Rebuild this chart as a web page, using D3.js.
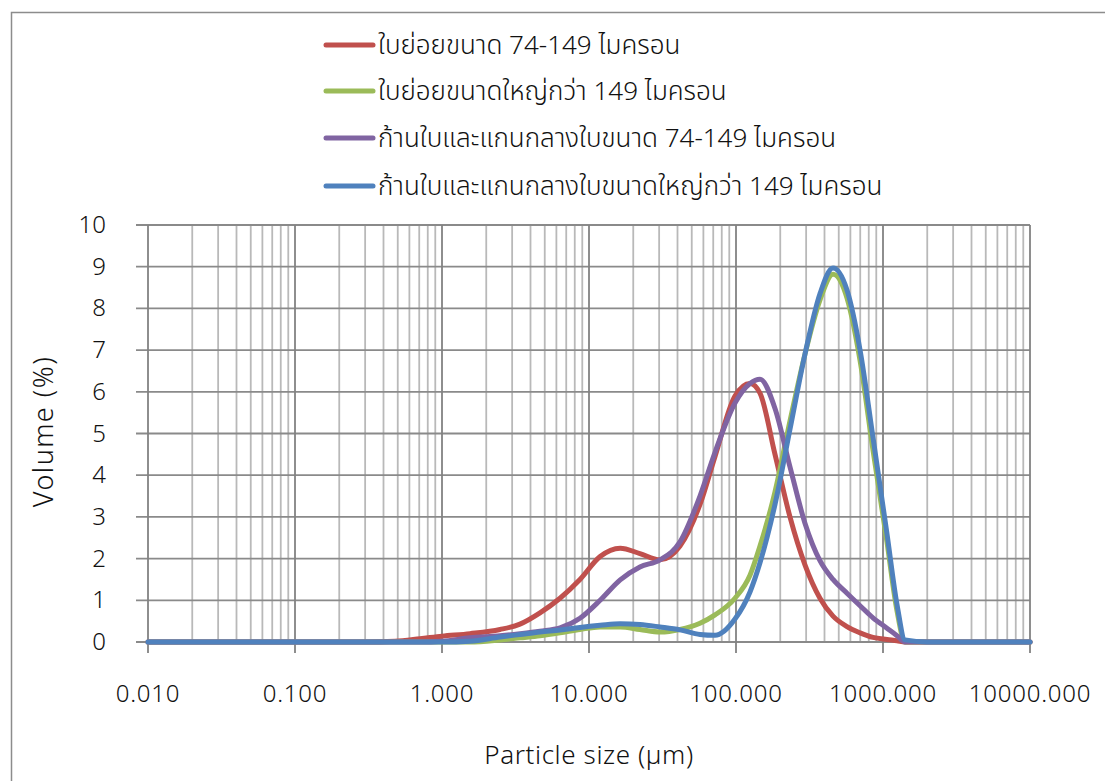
<!DOCTYPE html>
<html>
<head>
<meta charset="utf-8">
<script src="https://cdn.jsdelivr.net/npm/d3@7"></script>
<style>
  body { margin: 0; background: #fff; }
  text { font-family: "Noto Sans", "Open Sans", sans-serif; font-weight: 300; fill: #111; }
  .thai { font-family: "Noto Sans Thai", "Loma", "Garuda", "Norasi", "Noto Sans", sans-serif; font-weight: 300; }
</style>
</head>
<body>
<div id="chart"></div>
<script>
// particle size (µm) shared by every series
const sizes = [0.01, 0.1, 0.3, 0.479, 0.708, 1.0, 1.55, 2.48, 3.39, 4.64, 6.35, 8.68, 11.9, 16.3,
  22.2, 30.4, 41.6, 56.9, 72.0, 98.4, 124.5, 145.6, 184.2, 232.9, 294.5, 372.5, 457.1, 568.9,
  698.2, 855.1, 1064, 1245, 1412, 2000, 10000];

// volume (%)
const redVals = [0, 0, 0, 0.02, 0.08, 0.14, 0.2, 0.3, 0.43, 0.7, 1.05, 1.5, 2.05, 2.25,
  2.12, 1.97, 2.3, 3.3, 4.45, 5.9, 6.2, 5.97, 4.5, 3.0, 1.85, 1.05, 0.62, 0.37,
  0.22, 0.11, 0.06, 0.03, 0, 0, 0];
const greenVals = [0, 0, 0, 0, 0, 0, 0, 0.05, 0.1, 0.15, 0.22, 0.3, 0.36, 0.36,
  0.3, 0.24, 0.3, 0.45, 0.65, 1.05, 1.6, 2.3, 3.6, 5.3, 6.9, 8.2, 8.82, 8.25,
  6.75, 4.6, 2.4, 0.75, 0, 0, 0];
const purpleVals = [0, 0, 0, 0, 0, 0.02, 0.1, 0.15, 0.2, 0.26, 0.34, 0.57, 1.0, 1.49,
  1.8, 1.97, 2.4, 3.5, 4.55, 5.73, 6.2, 6.3, 5.6, 4.2, 2.85, 1.95, 1.5, 1.17,
  0.87, 0.58, 0.33, 0.15, 0, 0, 0];
const blueVals = [0, 0, 0, 0, 0, 0, 0.02, 0.12, 0.18, 0.24, 0.29, 0.35, 0.4, 0.44,
  0.42, 0.36, 0.29, 0.18, 0.16, 0.55, 1.2, 1.9, 3.3, 5.1, 6.9, 8.35, 8.97, 8.44,
  7.0, 4.9, 2.6, 0.9, 0.05, 0, 0];

const seriesNames = [
  "ใบย่อยขนาด 74-149 ไมครอน",
  "ใบย่อยขนาดใหญ่กว่า 149 ไมครอน",
  "ก้านใบและแกนกลางใบขนาด 74-149 ไมครอน",
  "ก้านใบและแกนกลางใบขนาดใหญ่กว่า 149 ไมครอน"
];
const colors = ["#C0504D", "#9BBB59", "#8064A2", "#4F81BD"];
const allVals = [redVals, greenVals, purpleVals, blueVals];

const xTicks = [0.01, 0.1, 1, 10, 100, 1000, 10000];
const yTicks = [0, 1, 2, 3, 4, 5, 6, 7, 8, 9, 10];

let dim = { width: 1105, height: 781 };
let m = { left: 148, right: 75, top: 225, bottom: 139 };

let svg = d3.select('#chart').append('svg')
  .attr('width', dim.width)
  .attr('height', dim.height);

// chart border
svg.append('rect')
  .attr('x', 11.5).attr('y', 12.5)
  .attr('width', 1200).attr('height', 900)
  .attr('fill', 'none').attr('stroke', '#8c8c8c').attr('stroke-width', 1.5);

let x = d3.scaleLog().domain([0.01, 10000]).range([m.left, dim.width - m.right]);
let y = d3.scaleLinear().domain([0, 10]).range([dim.height - m.bottom, m.top]);

let grid = svg.append('g');

// minor vertical gridlines
let minor = [];
for (let d = 0.01; d < 10000; d *= 10) {
  for (let k = 2; k <= 9; k++) minor.push(d * k);
}
grid.selectAll('.minor').data(minor).join('line')
  .attr('x1', d => x(d)).attr('x2', d => x(d))
  .attr('y1', y(0)).attr('y2', y(10))
  .attr('stroke', '#b9b9b9').attr('stroke-width', 1.8);

// horizontal gridlines (with outward ticks)
grid.selectAll('.hgrid').data(yTicks).join('line')
  .attr('x1', m.left - 12).attr('x2', x(10000))
  .attr('y1', d => y(d)).attr('y2', d => y(d))
  .attr('stroke', '#8a8a8a').attr('stroke-width', 1.8);

// major vertical gridlines (with outward ticks)
grid.selectAll('.major').data(xTicks).join('line')
  .attr('x1', d => x(d)).attr('x2', d => x(d))
  .attr('y1', y(0) + 11).attr('y2', y(10))
  .attr('stroke', '#828282').attr('stroke-width', 1.8);

// tick labels
svg.append('g').selectAll('text').data(yTicks).join('text')
  .attr('x', 106).attr('y', d => y(d) + 8)
  .attr('text-anchor', 'end')
  .attr('font-size', 24)
  .text(d => d);

svg.append('g').selectAll('text').data(xTicks).join('text')
  .attr('x', d => x(d)).attr('y', 702)
  .attr('text-anchor', 'middle')
  .attr('font-size', 24)
  .attr('letter-spacing', 0.8)
  .text(d => d.toFixed(3));

svg.append('text')
  .attr('transform', 'translate(53,' + (y(5) - 2) + ') rotate(-90)')
  .attr('text-anchor', 'middle')
  .attr('font-size', 27)
  .attr('letter-spacing', 1.5)
  .text('Volume (%)');

svg.append('text')
  .attr('x', x(10)).attr('y', 764)
  .attr('text-anchor', 'middle')
  .attr('font-size', 26)
  .attr('letter-spacing', 0.6)
  .text('Particle size (µm)');

// series
let line = d3.line()
  .x(d => x(d[0]))
  .y(d => y(d[1]))
  .curve(d3.curveMonotoneX);

allVals.forEach(function(vals, i) {
  svg.append('path')
    .datum(sizes.map((s, j) => [s, vals[j]]))
    .attr('d', line)
    .attr('fill', 'none')
    .attr('stroke', colors[i])
    .attr('stroke-width', 5)
    .attr('stroke-linejoin', 'round')
    .attr('stroke-linecap', 'round');
});

// legend
let legendY = [45, 91, 138, 186];
let lg = svg.append('g');
seriesNames.forEach(function(name, i) {
  lg.append('line')
    .attr('x1', 326).attr('x2', 373)
    .attr('y1', legendY[i]).attr('y2', legendY[i])
    .attr('stroke', colors[i]).attr('stroke-width', 5)
    .attr('stroke-linecap', 'round');
  lg.append('text')
    .attr('class', 'thai')
    .attr('x', 378).attr('y', legendY[i] + 9)
    .attr('font-size', 26)
    .text(name);
});
</script>
</body>
</html>
